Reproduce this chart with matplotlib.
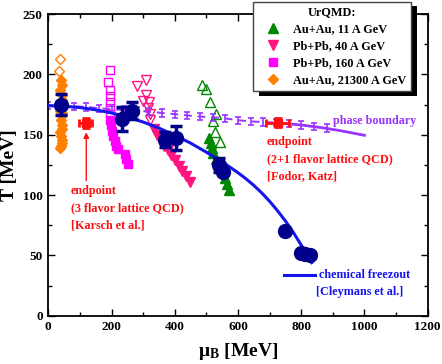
import matplotlib
matplotlib.use("Agg")
import matplotlib.pyplot as plt
from matplotlib.lines import Line2D
from matplotlib.patches import Rectangle
from matplotlib.ticker import MultipleLocator

plt.rcParams["font.family"] = ["Liberation Serif", "DejaVu Serif"]
plt.rcParams["font.weight"] = "bold"
plt.rcParams["axes.labelweight"] = "bold"
plt.rcParams["mathtext.default"] = "regular"

# UrQMD: Au+Au 11 A GeV (green)
au11_open_mu = [485, 498, 511, 530, 520, 527, 543]
au11_open_T = [191, 188, 177, 167, 161, 152, 144]
au11_mu = [509, 514, 518, 522, 530, 540, 550, 558, 565, 572]
au11_T = [147, 143, 139, 135, 130, 126, 120, 114, 109, 104]

# Pb+Pb 40 A GeV (deep pink)
pb40_open_mu = [280, 308, 308, 300, 318, 316, 322, 322]
pb40_open_T = [190, 195, 183, 178, 177, 172, 167, 162]
pb40_mu = [334, 345, 356, 367, 378, 389, 400, 412, 424, 436, 448]
pb40_T = [155, 150, 146, 141, 137, 133, 129, 124, 120, 116, 111]

# Pb+Pb 160 A GeV (magenta)
pb160_open_mu = [194, 188, 194, 194, 194, 194, 194]
pb160_open_T = [204, 194, 187, 182, 177, 172, 167]
pb160_mu = [196, 199, 202, 206, 210, 215, 220, 242, 247, 251]
pb160_T = [162, 158, 153, 149, 145, 141, 138, 134, 130, 126]

# Au+Au 21300 A GeV (orange)
au21k_open_mu = [37, 34]
au21k_open_T = [213, 203]
au21k_mu = [40, 42, 38, 42, 44, 40, 38, 42, 40, 44, 42, 38, 40, 44, 42, 40, 38, 42]
au21k_T = [195, 191, 187, 183, 179, 175, 170, 166, 162, 158, 155, 152, 149, 146, 143, 141, 139, 168]

# chemical freeze-out points (navy)
fo_err_mu = [40, 234, 264, 369, 403, 541]
fo_err_T = [175, 163, 170, 146, 147, 125]
fo_err = [9, 10, 7, 6, 10, 6]
fo_mu = [553, 749, 800, 812, 828]
fo_T = [119, 70, 52, 51, 50]

# chemical freezout curve [Cleymans et al.]
cf_mu = [0, 50, 100, 150, 200, 250, 300, 350, 400, 450, 500, 550, 600, 625, 650, 675,
         700, 725, 750, 775, 800, 833]
cf_T = [174, 173.6, 172.5, 170.6, 168, 164.6, 160.5, 155.5, 149.5, 143, 135.5, 127.5,
        118.5, 113.5, 108, 101.8, 94.8, 87, 78.5, 69, 58.5, 44]

# phase boundary
pb_mu = [0, 40, 80, 120, 160, 200, 240, 280, 320, 360, 400, 440, 480, 520, 560,
         600, 640, 680, 720, 760, 800, 840, 880]
pb_T = [174, 174, 173.5, 173, 172, 171, 170.5, 170, 169, 168, 167, 166, 165, 164.5, 163.5,
        162, 161, 160.5, 160, 159, 158, 157, 155.5]
pb_tail_mu = [760, 800, 860, 920, 1000]
pb_tail_T = [159, 158, 156, 153.5, 149.5]

# lattice QCD endpoints
ep_mu = [118, 725]
ep_T = [159.5, 160]
ep_muerr = [20, 36]
ep_Terr = [4, 4]

navy = "#00008b"
purple = "#9933ff"
blue = "#1515ee"
red = "#ff1010"
green = "#008800"
pink = "#ff1480"
magenta = "#ff00ff"
orange = "#ff8000"

fig = plt.figure(figsize=(4.42, 3.64), dpi=100)
ax = fig.add_axes([0.1093, 0.1327, 0.8583, 0.8288])

# UrQMD markers
ax.plot(au21k_mu, au21k_T, "D", color=orange, ms=5, mec=orange)
ax.plot(au21k_open_mu, au21k_open_T, "D", color=orange, ms=5, mfc="none", mew=1)
ax.plot(pb160_mu, pb160_T, "s", color=magenta, ms=6, mec=magenta)
ax.plot(pb160_open_mu, pb160_open_T, "s", color=magenta, ms=6, mfc="none", mew=1)
ax.plot(pb40_mu, pb40_T, "v", color=pink, ms=7.5, mec=pink)
ax.plot(pb40_open_mu, pb40_open_T, "v", color=pink, ms=7.5, mfc="none", mew=1)
ax.plot(au11_mu, au11_T, "^", color=green, ms=7.5, mec=green)
ax.plot(au11_open_mu, au11_open_T, "^", color=green, ms=7.5, mfc="none", mew=1)

# phase boundary
n_dash = pb_mu.index(760) + 1
ax.plot(pb_mu[:n_dash], pb_T[:n_dash], "--", color=purple, lw=1.4, dashes=(4, 3))
ax.plot(pb_tail_mu, pb_tail_T, "-", color=purple, lw=2)
ax.errorbar(pb_mu, pb_T, yerr=3, fmt="none", ecolor=purple, elinewidth=1.2,
            capsize=2, capthick=1.2)

# freeze-out curve
ax.plot(cf_mu, cf_T, "-", color=blue, lw=2.2, zorder=4)

# freeze-out points
ax.errorbar(fo_err_mu, fo_err_T, yerr=fo_err, fmt="o", color=navy, ms=10,
            elinewidth=2.5, capsize=4, capthick=2.5, zorder=5)
ax.plot(fo_mu, fo_T, "o", color=navy, ms=10, zorder=5)

# lattice endpoints
ax.errorbar(ep_mu, ep_T, xerr=ep_muerr, yerr=ep_Terr, fmt="s", color=red, ms=6,
            elinewidth=2, capsize=3, capthick=2, zorder=6)

ax.annotate("", xy=(120, 152), xytext=(120, 112),
            arrowprops=dict(arrowstyle="-|>", color=red, lw=1, mutation_scale=8,
                            shrinkA=0, shrinkB=0))

tfs = 8.7
ax.text(72, 103, "endpoint", color=red, fontsize=tfs, va="center")
ax.text(72, 89, "(3 flavor lattice QCD)", color=red, fontsize=tfs, va="center")
ax.text(72, 75, "[Karsch et al.]", color=red, fontsize=tfs, va="center")
ax.text(691, 144, "endpoint", color=red, fontsize=tfs, va="center")
ax.text(691, 130, "(2+1 flavor lattice QCD)", color=red, fontsize=tfs, va="center")
ax.text(691, 116, "[Fodor, Katz]", color=red, fontsize=tfs, va="center")
ax.text(900, 161, "phase boundary", color=purple, fontsize=tfs, va="center")

ax.plot([747, 844], [34, 34], "-", color=blue, lw=2.2)
ax.text(857, 34, "chemical freezout", color=blue, fontsize=tfs, va="center")
ax.text(846, 20, "[Cleymans et al.]", color=blue, fontsize=tfs, va="center")

ax.set_xlim(0, 1200)
ax.set_ylim(0, 250)
ax.xaxis.set_major_locator(MultipleLocator(200))
ax.xaxis.set_minor_locator(MultipleLocator(100))
ax.yaxis.set_major_locator(MultipleLocator(50))
ax.yaxis.set_minor_locator(MultipleLocator(25))
ax.tick_params(which="both", direction="in", top=True, right=True, labelsize=9.5, width=1)
ax.tick_params(which="major", length=5, pad=4)
ax.tick_params(which="minor", length=3)
for s in ax.spines.values():
    s.set_linewidth(1.3)

ax.set_xlabel("μ$_\\mathregular{B}$ [MeV]", fontsize=14)
ax.set_ylabel("T [MeV]", fontsize=14)
ax.xaxis.set_label_coords(0.5, -0.085)
ax.yaxis.set_label_coords(-0.08, 0.5)

handles = [
    Line2D([], [], ls="none", marker="^", color=green, ms=7),
    Line2D([], [], ls="none", marker="v", color=pink, ms=7),
    Line2D([], [], ls="none", marker="s", color=magenta, ms=5.5),
    Line2D([], [], ls="none", marker="D", color=orange, ms=5),
]
labels = ["Au+Au, 11 A GeV", "Pb+Pb, 40 A GeV", "Pb+Pb, 160 A GeV", "Au+Au, 21300 A GeV"]
leg = fig.legend(handles, labels, title="UrQMD:", loc="upper left",
                 bbox_to_anchor=(252.7 / 442, 1 - 1.7 / 364), borderaxespad=0,
                 fontsize=8.8, title_fontproperties={"weight": "bold", "size": 8.8},
                 fancybox=False, framealpha=1, edgecolor="#444444",
                 handlelength=2.6, handletextpad=0.3, labelspacing=0.4,
                 borderpad=0.4)
leg.get_frame().set_linewidth(1)
leg.set_zorder(10)

fig.canvas.draw()
bb = leg.get_window_extent()
shadow = Rectangle((bb.x0 + 6, bb.y0 - 4.5), bb.width, bb.height, transform=None,
                   facecolor="black", edgecolor="none", zorder=9)
fig.patches.append(shadow)

fig.savefig("out.png", dpi=100)
